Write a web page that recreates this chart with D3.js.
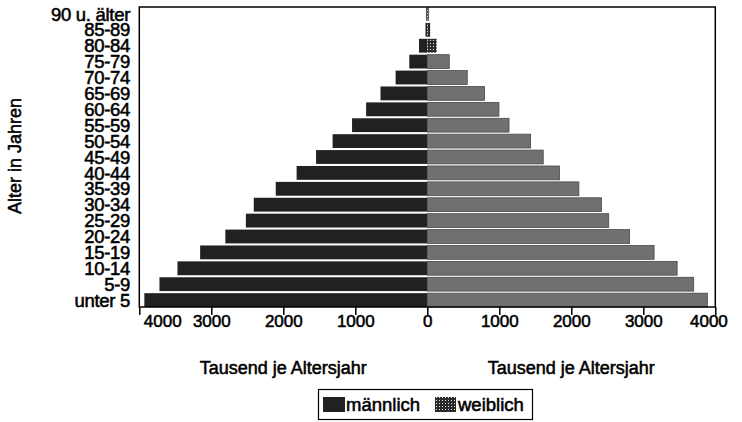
<!DOCTYPE html>
<html><head><meta charset="utf-8">
<script src="https://cdn.jsdelivr.net/npm/d3@7"></script>
<style>
body{margin:0;background:#fff;}
text{font-family:"Liberation Sans",Arial,sans-serif;fill:#000;}
</style></head>
<body><svg id="c" width="742" height="422"></svg>
<script>
const categories = ["90 u. älter","85-89","80-84","75-79","70-74","65-69","60-64","55-59","50-54","45-49","40-44","35-39","30-34","25-29","20-24","15-19","10-14","5-9","unter 5"];
const male   = [15,25,115,250,440,650,850,1045,1315,1545,1815,2105,2410,2520,2805,3155,3470,3720,3930];
const female = [20,40,130,305,555,795,995,1135,1435,1610,1835,2105,2420,2520,2810,3150,3470,3700,3890];
const leftTicks = [4000,3000,2000,1000];
const rightTicks = [0,1000,2000,3000,4000];
const seriesNames = ["männlich","weiblich"];
const xTitle = "Tausend je Altersjahr";
const yTitle = "Alter in Jahren";

const svg = d3.select("#c");
const defs = svg.append("defs");
const pat = defs.append("pattern").attr("id","dots").attr("patternUnits","userSpaceOnUse").attr("width",3).attr("height",3);
pat.append("rect").attr("width",3).attr("height",3).attr("fill","#2a2a2a");
pat.append("rect").attr("x",1).attr("y",1).attr("width",1).attr("height",1).attr("fill","#e0e0e0");

const x0 = 427.3, xL = 139.3, xR = 715.3, yT = 7, yB = 307;
const xLeft = d3.scaleLinear().domain([0,4000]).range([x0,xL]);
const xRight = d3.scaleLinear().domain([0,4000]).range([x0,xR]);
const y = d3.scaleBand().domain(categories).range([yT,yB]).paddingInner(0.13).paddingOuter(0);

const maleCol = "#212121", femCol = "#707070";
const SW = 0.55;

svg.append("g").selectAll("rect").data(categories).join("rect")
  .attr("x",(c,i)=>xLeft(male[i])).attr("y",c=>y(c))
  .attr("width",(c,i)=>x0-xLeft(male[i])).attr("height",y.bandwidth())
  .attr("fill",maleCol);
svg.append("g").selectAll("rect").data(categories).join("rect")
  .attr("x",x0).attr("y",c=>y(c))
  .attr("width",(c,i)=>xRight(female[i])-x0).attr("height",y.bandwidth())
  .attr("fill",(c,i)=>female[i]<200?"url(#dots)":femCol)
  .attr("stroke",(c,i)=>female[i]<200?"none":"#4a4a4a").attr("stroke-width",0.8);

// frame
svg.append("rect").attr("x",xL).attr("y",yT).attr("width",xR-xL).attr("height",yB-yT)
  .attr("fill","none").attr("stroke","#000").attr("stroke-width",1.5);

const fmt = d3.format("d");
const axL = svg.append("g").attr("transform",`translate(0,${yB})`)
  .call(d3.axisBottom(xLeft).tickValues(leftTicks).tickSize(8).tickSizeOuter(0).tickFormat(fmt));
const axR = svg.append("g").attr("transform",`translate(0,${yB})`)
  .call(d3.axisBottom(xRight).tickValues(rightTicks).tickSize(8).tickSizeOuter(0).tickFormat(fmt));
[axL,axR].forEach(a=>{
  a.select(".domain").remove();
  a.selectAll("line").attr("stroke","#000").attr("stroke-width",1.5);
  a.selectAll("text").attr("font-size",17).attr("font-family","Liberation Sans, Arial, sans-serif")
    .attr("fill","#000").attr("y",8).attr("stroke","#000").attr("stroke-width",SW);
});
// end labels kept inside like the original
axL.selectAll(".tick").filter(d=>d===4000).select("text").attr("text-anchor","start").attr("x",4);
axR.selectAll(".tick").filter(d=>d===4000).select("text").attr("text-anchor","end").attr("x",12);

// category labels
svg.append("g").selectAll("text").data(categories).join("text")
  .attr("x",130).attr("y",c=>y(c)+y.bandwidth()/2).attr("dy","0.36em")
  .attr("text-anchor","end").attr("font-size",18.5).attr("letter-spacing",-0.3)
  .attr("stroke","#000").attr("stroke-width",SW).text(c=>c);

// y title
svg.append("text").attr("transform","translate(21,156) rotate(-90)")
  .attr("text-anchor","middle").attr("font-size",18).attr("stroke","#000").attr("stroke-width",SW).text(yTitle);

// x titles
[xLeft(2000), xRight(2000)].forEach(xx=>{
  svg.append("text").attr("x",xx).attr("y",374).attr("text-anchor","middle")
    .attr("font-size",18).attr("stroke","#000").attr("stroke-width",SW).text(xTitle);
});

// legend
const lg = svg.append("g");
lg.append("rect").attr("x",318.5).attr("y",389.5).attr("width",214).attr("height",30)
  .attr("fill","#fff").attr("stroke","#000").attr("stroke-width",1.2);
lg.append("rect").attr("x",323).attr("y",397).attr("width",22).attr("height",15).attr("fill",maleCol);
lg.append("text").attr("x",346).attr("y",411).attr("font-size",18.5).attr("stroke","#000").attr("stroke-width",SW).text(seriesNames[0]);
lg.append("rect").attr("x",435).attr("y",397).attr("width",21).attr("height",15).attr("fill","url(#dots)");
lg.append("text").attr("x",458).attr("y",411).attr("font-size",18.5).attr("stroke","#000").attr("stroke-width",SW).text(seriesNames[1]);
</script></body></html>
